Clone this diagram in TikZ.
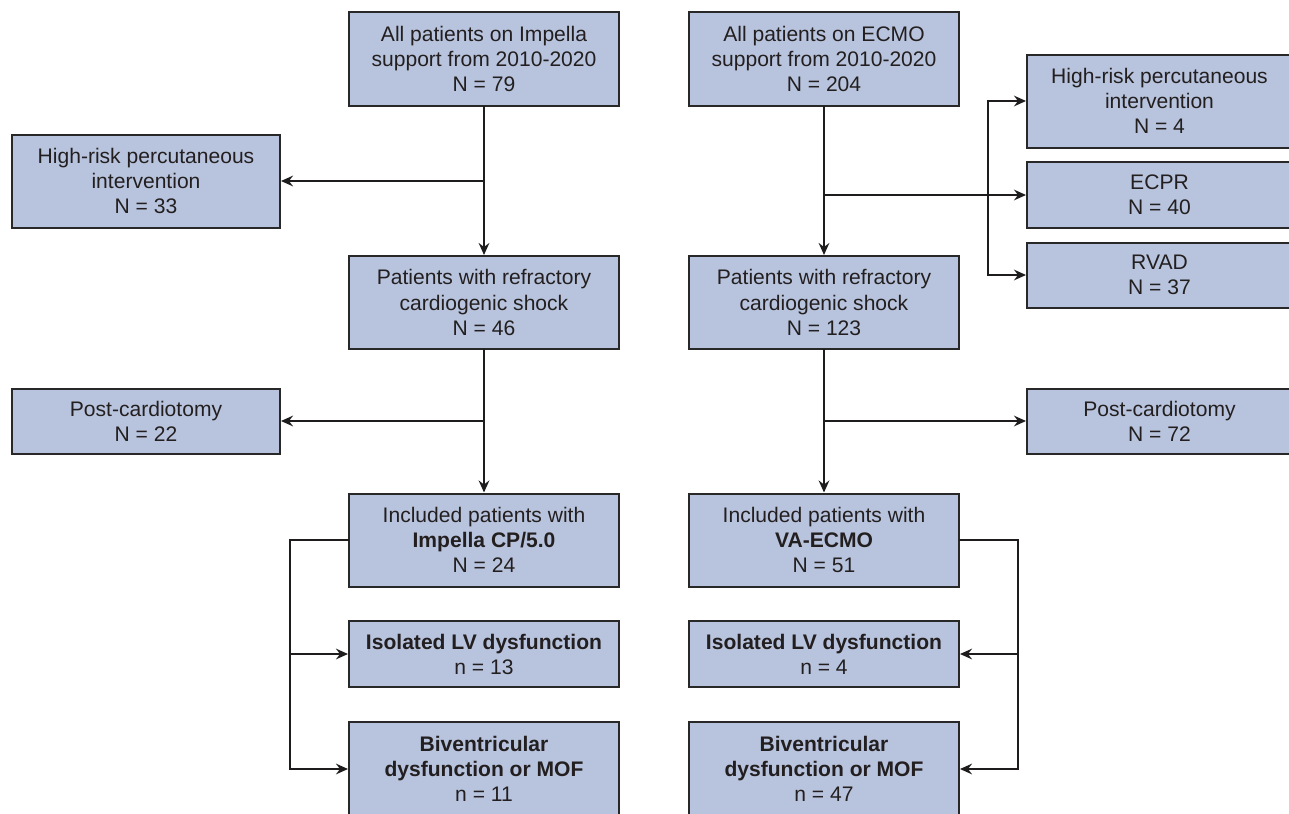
\documentclass[tikz,border=0pt]{standalone}
\usepackage{fontspec}
\setmainfont{Liberation Sans}
\usetikzlibrary{arrows.meta}
\definecolor{boxfill}{RGB}{184,196,221}
\definecolor{boxline}{RGB}{40,40,40}
\definecolor{conn}{RGB}{30,28,29}
\definecolor{txt}{RGB}{35,31,32}
\begin{document}
\begin{tikzpicture}[x=0.75pt,y=-0.75pt,
  box/.style={draw=boxline, fill=boxfill, line width=1.5pt, inner sep=0pt, align=center, text=txt, font=\fontsize{15.8}{18.8}\selectfont},
  arr/.style={draw=conn, line width=1.5pt, line cap=rect, -{Stealth[length=9pt,width=8pt,inset=3pt]}}]
\useasboundingbox (0,0) rectangle (1289,814);
\clip (0,0) rectangle (1289,814);
% left column
\node[box, minimum width=202.5pt, minimum height=70.5pt] (topL) at (484,59) {All patients on Impella\\support from 2010-2020\\N = 79};
\node[box, minimum width=202.5pt, minimum height=69.75pt] (refrL) at (484,302.5) {Patients with refractory\\cardiogenic shock\\N = 46};
\node[box, minimum width=202.5pt, minimum height=69.75pt] (inclL) at (484,540) {Included patients with\\\textbf{Impella CP/5.0}\\N = 24};
\node[box, minimum width=202.5pt, minimum height=49.5pt] (isoL) at (484,654) {\textbf{Isolated LV dysfunction}\\n = 13};
\node[box, minimum width=202.5pt, minimum height=70.5pt] (bivL) at (484,769) {\textbf{Biventricular}\\\textbf{dysfunction or MOF}\\n = 11};
% far left
\node[box, minimum width=201pt, minimum height=69.75pt] (hrL) at (146,181) {High-risk percutaneous\\intervention\\N = 33};
\node[box, minimum width=201pt, minimum height=48.75pt] (postL) at (146,421) {Post-cardiotomy\\N = 22};
% right column
\node[box, minimum width=202.5pt, minimum height=70.5pt] (topR) at (824,59) {All patients on ECMO\\support from 2010-2020\\N = 204};
\node[box, minimum width=202.5pt, minimum height=69.75pt] (refrR) at (824,302.5) {Patients with refractory\\cardiogenic shock\\N = 123};
\node[box, minimum width=202.5pt, minimum height=69.75pt] (inclR) at (824,540) {Included patients with\\\textbf{VA-ECMO}\\N = 51};
\node[box, minimum width=202.5pt, minimum height=49.5pt] (isoR) at (824,654) {\textbf{Isolated LV dysfunction}\\n = 4};
\node[box, minimum width=202.5pt, minimum height=70.5pt] (bivR) at (824,769) {\textbf{Biventricular}\\\textbf{dysfunction or MOF}\\n = 47};
% far right
\node[box, minimum width=198.75pt, minimum height=69.75pt] (hrR) at (1159.5,101) {High-risk percutaneous\\intervention\\N = 4};
\node[box, minimum width=198.75pt, minimum height=49.5pt] (ecpr) at (1159.5,195) {ECPR\\N = 40};
\node[box, minimum width=198.75pt, minimum height=48.75pt] (rvad) at (1159.5,275) {RVAD\\N = 37};
\node[box, minimum width=198.75pt, minimum height=48.75pt] (postR) at (1159.5,421) {Post-cardiotomy\\N = 72};
% connectors left
\draw[arr] (topL.south) -- (refrL.north);
\draw[arr] (topL.south |- hrL.east) -- (hrL.east);
\draw[arr] (refrL.south) -- (inclL.north);
\draw[arr] (refrL.south |- postL.east) -- (postL.east);
\coordinate (lx) at (290,540);
\draw[arr] (inclL.west) -- (lx) -- (lx |- bivL.west) -- (bivL.west);
\draw[arr] (lx |- isoL.west) -- (isoL.west);
% connectors right
\draw[arr] (topR.south) -- (refrR.north);
\draw[arr] (topR.south |- ecpr.west) -- (ecpr.west);
\coordinate (bx) at (988,101);
\draw[arr] (bx) -- (bx |- rvad.west) -- (rvad.west);
\draw[arr] (bx) -- (hrR.west);
\draw[arr] (refrR.south) -- (inclR.north);
\draw[arr] (refrR.south |- postR.west) -- (postR.west);
\coordinate (rx) at (1018,540);
\draw[arr] (inclR.east) -- (rx) -- (rx |- bivR.east) -- (bivR.east);
\draw[arr] (rx |- isoR.east) -- (isoR.east);
\end{tikzpicture}
\end{document}
